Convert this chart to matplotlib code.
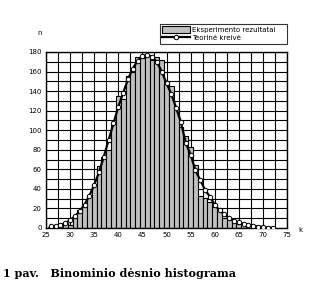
import numpy as np
import matplotlib.pyplot as plt

# k values and counts
k = np.arange(26, 73)
experiment = [1, 3, 4, 5, 3, 10, 18, 24, 33, 45,
              63, 73, 80, 106, 135, 132, 155, 160, 175, 174,
              177, 172, 175, 172, 147, 145, 124, 103, 94, 83,
              64, 33, 31, 27, 21, 18, 10, 10, 7, 4,
              4, 3, 2, 1, 1, 0.5, 0]
theory = [2, 2, 3, 5, 8, 12, 17, 24, 33, 44,
          57, 73, 90, 107, 124, 138, 152, 163, 171, 176,
          177, 175, 170, 160, 148, 137, 123, 108, 87, 75,
          59, 49, 39, 32, 24, 18, 14, 10, 7, 6,
          4, 3, 2, 1.5, 1, 0.5, 0.3]

fig = plt.figure(figsize=(3.32, 2.81), dpi=100)
ax = fig.add_axes([46 / 332, 1 - 228 / 281, 241 / 332, 176 / 281])

bars = ax.bar(k, experiment, width=1.0, color="#c0c0c0", edgecolor="black",
              linewidth=0.8, label="Eksperimento rezultatai", zorder=2)
line, = ax.plot(k, theory, color="black", linewidth=1.6, marker="o",
                markersize=3.2, markerfacecolor="white",
                markeredgecolor="black", markeredgewidth=0.7,
                label="Teorinė kreivė", zorder=3)

ax.set_xlim(25, 75)
ax.set_ylim(0, 180)
ax.set_xticks(np.arange(25, 76, 5))
ax.set_xticks(np.arange(25, 76, 2.5), minor=True)
ax.set_yticks(np.arange(0, 181, 20))
ax.set_yticks(np.arange(0, 181, 10), minor=True)
ax.grid(which="both", color="black", linewidth=0.8, zorder=0)
ax.set_axisbelow(True)
ax.tick_params(labelsize=5, length=0, pad=3, which="both")
for s in ax.spines.values():
    s.set_linewidth(1.0)

fig.text(40 / 332, 1 - 33 / 281, "n", fontsize=5, ha="center", va="center")
fig.text(300 / 332, 1 - 230 / 281, "k", fontsize=5, ha="center", va="center")

leg = fig.legend([bars, line], ["Eksperimento rezultatai", "Teorinė kreivė"],
                 loc="upper right",
                 bbox_to_anchor=(287 / 332, 1 - 24 / 281), fontsize=5,
                 frameon=True, fancybox=False, borderaxespad=0,
                 handlelength=4.0, handleheight=1.0, handletextpad=0.3,
                 borderpad=0.35, labelspacing=0.25)
leg.get_frame().set_edgecolor("black")
leg.get_frame().set_linewidth(0.8)
for t in leg.get_texts():
    t.set_text(t.get_text() + "    ")

fig.text(0.01, 1 - 268 / 281, "1 pav.   Binominio dėsnio histograma",
         fontsize=8, family="DejaVu Serif", weight="bold", ha="left", va="top")

fig.savefig("out.png", dpi=100)
